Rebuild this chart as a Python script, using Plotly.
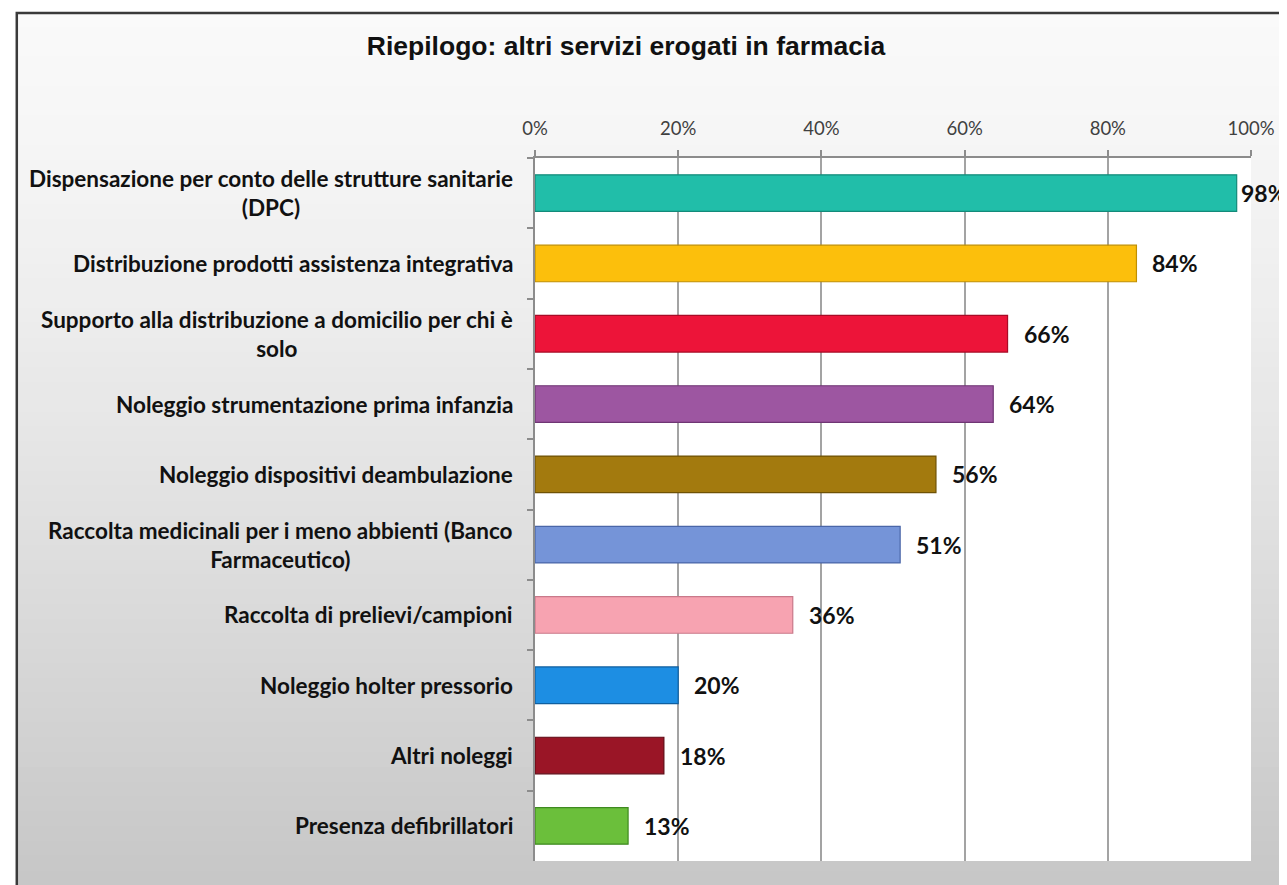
import plotly.graph_objects as go

# data
categories = [
    "Dispensazione per conto delle strutture sanitarie<br>(DPC)",
    "Distribuzione prodotti assistenza integrativa",
    "Supporto alla distribuzione a domicilio per chi è<br>solo",
    "Noleggio strumentazione prima infanzia",
    "Noleggio dispositivi deambulazione",
    "Raccolta medicinali per i meno abbienti (Banco<br>Farmaceutico)",
    "Raccolta di prelievi/campioni",
    "Noleggio holter pressorio",
    "Altri noleggi",
    "Presenza defibrillatori",
]
values = [98, 84, 66, 64, 56, 51, 36, 20, 18, 13]
tick_vals = [0, 20, 40, 60, 80, 100]
tick_text = ["0%", "20%", "40%", "60%", "80%", "100%"]

bar_colors = ["#21bea9", "#fcbf0c", "#ed1439", "#9d56a1", "#a37a0e",
              "#7594d8", "#f7a3b1", "#1d8ee3", "#9a1526", "#6bbf3b"]
edge_colors = ["#138a7a", "#c08f00", "#a80b26", "#6f3574", "#6f5205",
               "#4a66a8", "#c9798a", "#0f5fa0", "#5f0a14", "#3f8a20"]

# the page body has an 8px margin, so page pixels are shifted by OFF
OFF = 8
W, H = 1287 - OFF, 885 - OFF
plot_l, plot_r, plot_t, plot_b = 535 - OFF, 1259 - OFF, 158 - OFF, 861 - OFF


def px_x(px):
    return (px - OFF - plot_l) / (plot_r - plot_l)


def px_y(py):
    return (plot_b - (py - OFF)) / (plot_b - plot_t)


fig = go.Figure()
fig.add_trace(go.Bar(
    x=values,
    y=categories,
    orientation="h",
    width=0.52,
    marker=dict(color=bar_colors, line=dict(color=edge_colors, width=1.2)),
    hoverinfo="x+y",
))

# gray gradient behind everything, white plot area on top of it
shapes = []
n = 60
top_px, bot_px = 12, 900
for i in range(n):
    y0 = top_px + (bot_px - top_px) * i / n
    y1 = top_px + (bot_px - top_px) * (i + 1) / n + 1
    t = i / (n - 1)
    g = int(250 - (250 - 198) * t ** 1.3)
    shapes.append(dict(type="rect", xref="paper", yref="paper",
                       x0=px_x(11), x1=px_x(1400), y0=px_y(y1), y1=px_y(y0),
                       layer="below", line_width=0,
                       fillcolor=f"rgb({g},{g},{g})"))
shapes.append(dict(type="rect", xref="x domain", yref="y domain",
                   x0=0, x1=1, y0=0, y1=1, layer="below",
                   line_width=0, fillcolor="white"))
# outer frame
shapes.append(dict(type="rect", xref="paper", yref="paper",
                   x0=px_x(11), x1=px_x(1400), y0=px_y(950), y1=px_y(13),
                   layer="below", line=dict(color="#3a3a3a", width=2.5),
                   fillcolor="rgba(0,0,0,0)"))

annotations = []
for cat, v in zip(categories, values):
    annotations.append(dict(
        x=0, y=cat, xref="x", yref="y", text=f"<b>{cat}</b>", showarrow=False,
        xanchor="right", yanchor="middle", align="center", xshift=-20,
        font=dict(family="Lato", size=22.5, color="#111111"),
    ))
    annotations.append(dict(
        x=v, y=cat, xref="x", yref="y", text=f"<b>{v}%</b>", showarrow=False,
        xanchor="left", yanchor="middle", xshift=2 if v > 95 else 14,
        font=dict(family="Lato", size=23, color="#111111"),
    ))

fig.update_layout(
    width=W, height=H,
    margin=dict(l=plot_l, r=W - plot_r, t=plot_t, b=H - plot_b),
    paper_bgcolor="white",
    plot_bgcolor="white",
    showlegend=False,
    title=dict(text="<b>Riepilogo: altri servizi erogati in farmacia</b>",
               x=(626 - OFF) / W, xanchor="center",
               y=1 - (46 - OFF) / H, yanchor="middle",
               font=dict(family="Liberation Sans", size=26.5, color="#111111")),
    xaxis=dict(
        side="top", range=[0, 100], tickvals=tick_vals, ticktext=tick_text,
        showgrid=True, gridcolor="#a3a3a3", gridwidth=1.5,
        showline=True, linecolor="#8c8c8c", linewidth=1.5,
        ticks="outside", ticklen=6, tickcolor="#8c8c8c", tickwidth=1.5,
        ticklabelstandoff=8,
        tickfont=dict(family="Lato", size=18.5, color="#404040"),
        zeroline=False, fixedrange=True,
    ),
    yaxis=dict(
        autorange="reversed", showticklabels=False,
        showline=True, linecolor="#8c8c8c", linewidth=1.5,
        ticks="outside", ticklen=6, tickcolor="#8c8c8c", tickwidth=1.5,
        tickson="boundaries", showgrid=False, fixedrange=True,
    ),
    shapes=shapes,
    annotations=annotations,
)

fig.write_html("out.html")
